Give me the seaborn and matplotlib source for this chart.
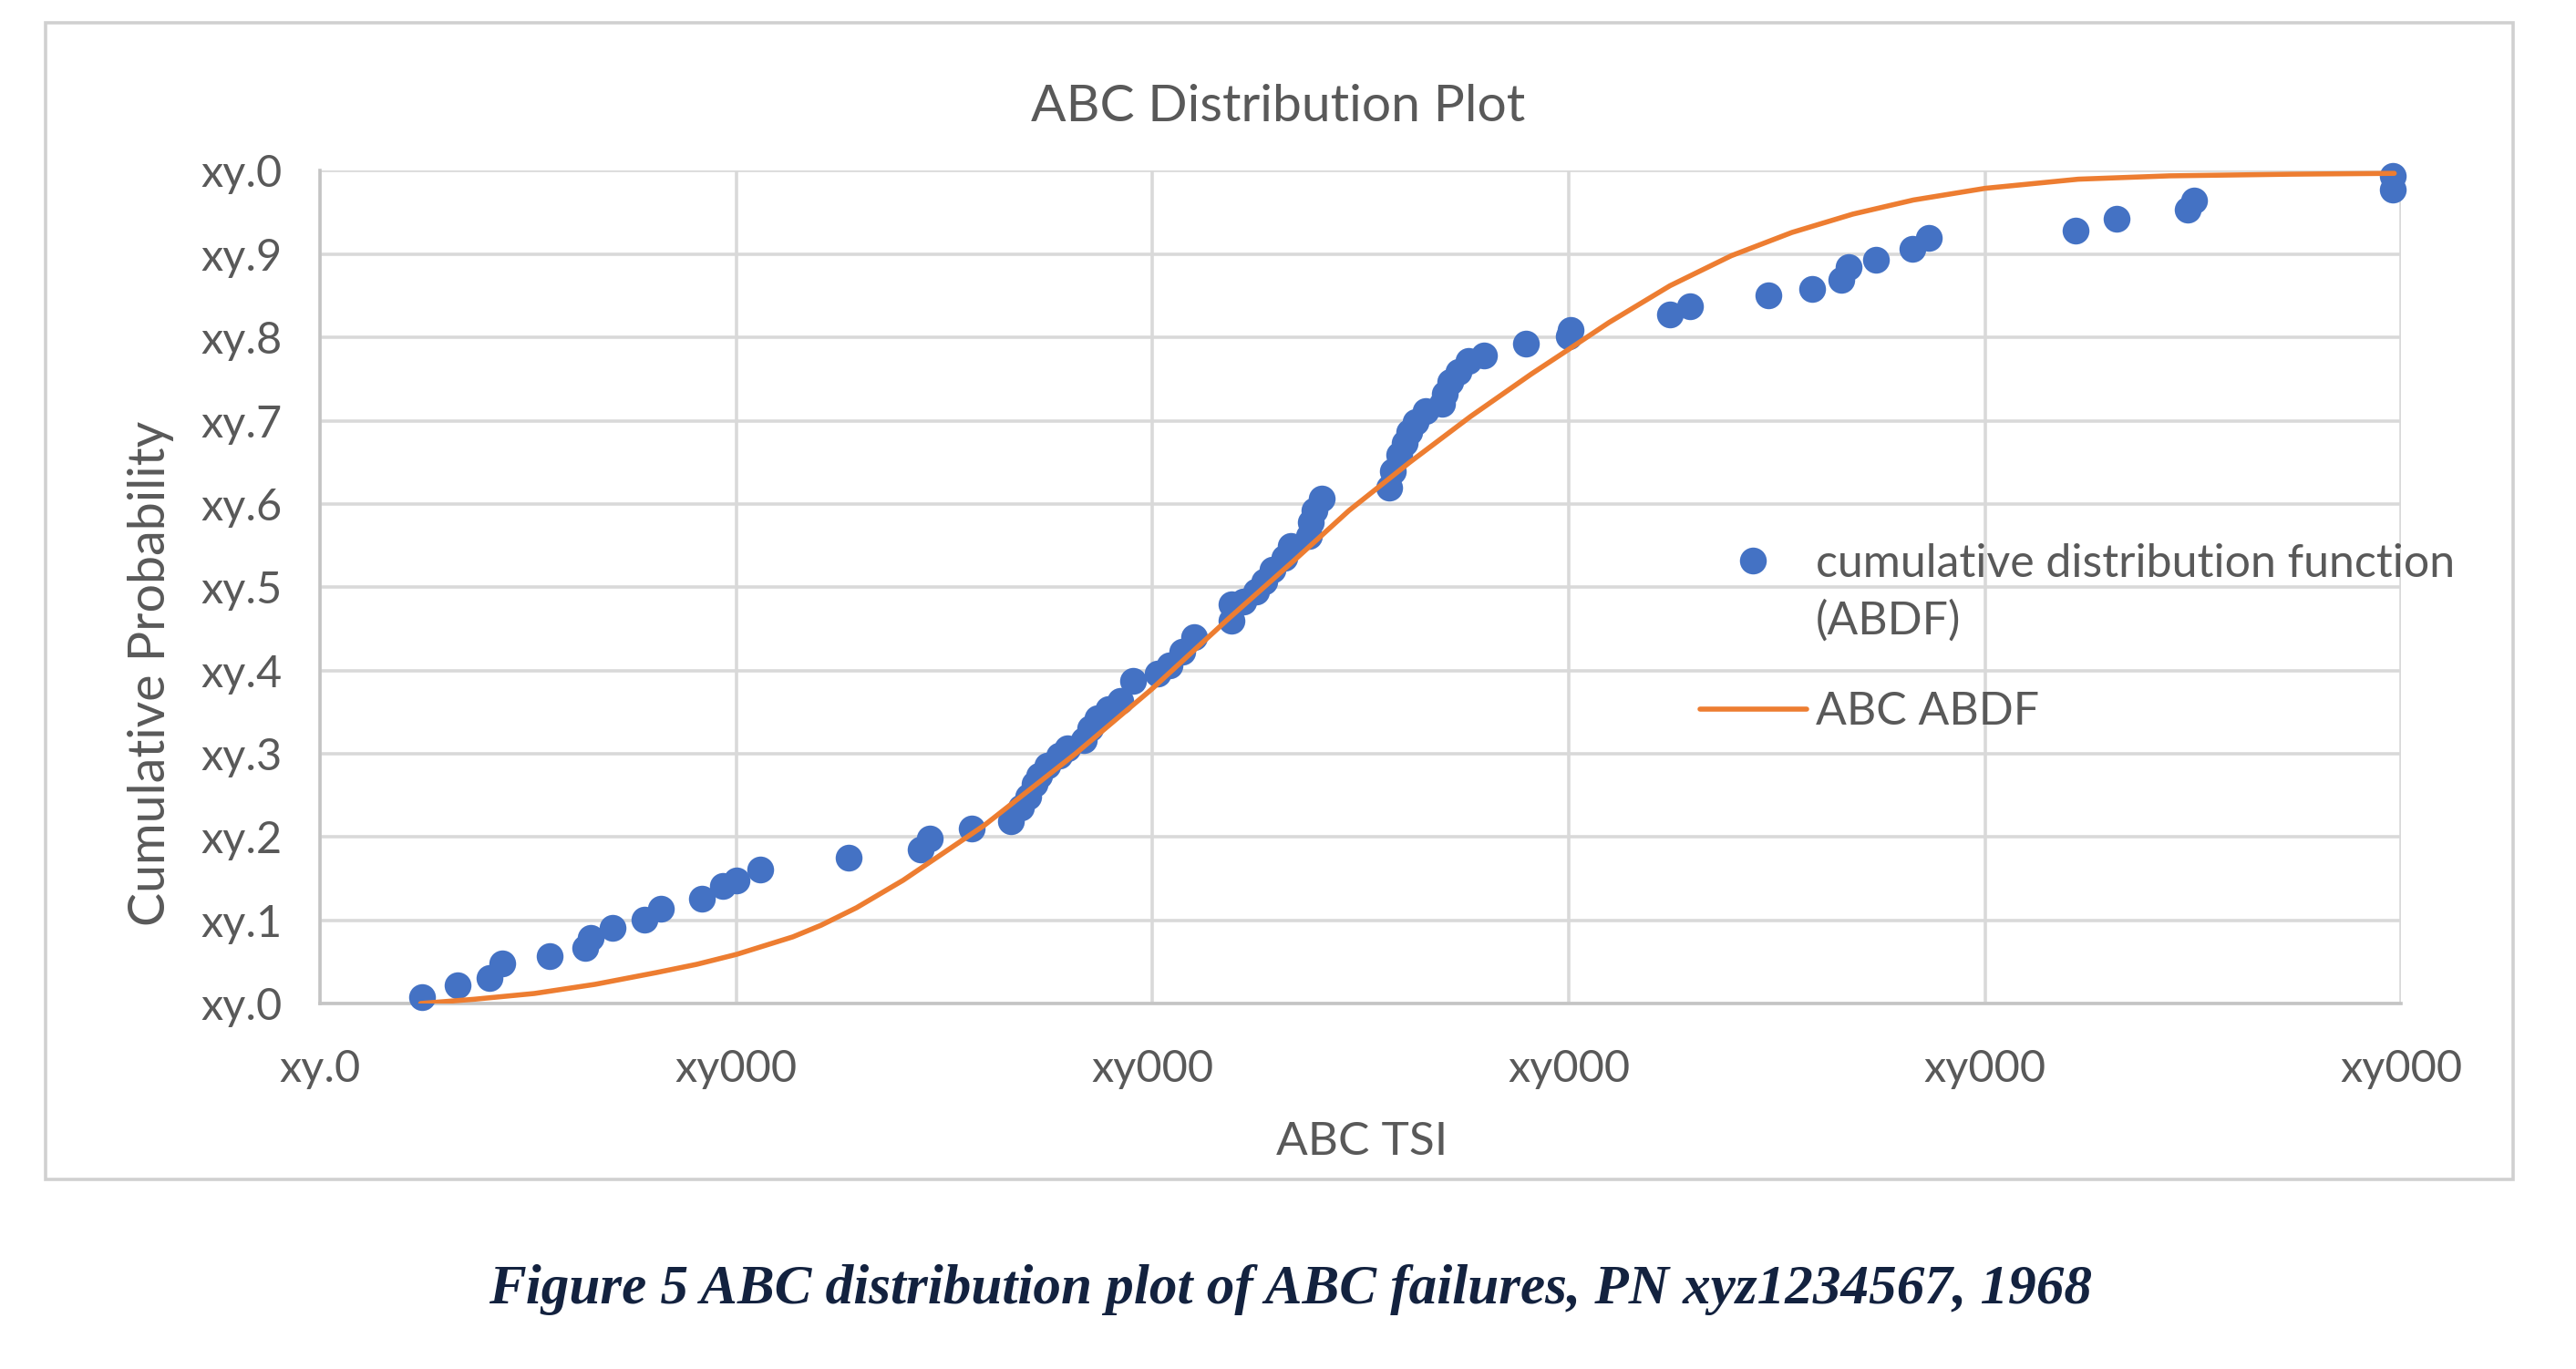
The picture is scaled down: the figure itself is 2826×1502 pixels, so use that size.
import numpy as np
import pandas as pd
import seaborn as sns
from matplotlib import pyplot as plt
from matplotlib.patches import Rectangle

tsi_obs = [0.245, 0.331, 0.408, 0.438, 0.552, 0.638, 0.651, 0.703, 0.780, 0.820,
           0.917, 0.968, 1.001, 1.057, 1.271, 1.443, 1.465, 1.565, 1.659, 1.685,
           1.701, 1.717, 1.728, 1.748, 1.776, 1.796, 1.835, 1.851, 1.867, 1.894,
           1.922, 1.953, 2.013, 2.040, 2.072, 2.099, 2.190, 2.190, 2.218, 2.249,
           2.269, 2.289, 2.316, 2.332, 2.376, 2.380, 2.388, 2.407, 2.569, 2.577,
           2.593, 2.605, 2.617, 2.632, 2.656, 2.695, 2.703, 2.715, 2.735, 2.758,
           2.796, 2.896, 3.000, 3.004, 3.242, 3.291, 3.480, 3.585, 3.654, 3.672,
           3.737, 3.826, 3.864, 4.218, 4.315, 4.487, 4.503, 4.980, 4.980]
prob_obs = [0.008, 0.022, 0.031, 0.048, 0.057, 0.067, 0.079, 0.091, 0.101, 0.114,
            0.126, 0.141, 0.148, 0.161, 0.175, 0.185, 0.198, 0.210, 0.219, 0.235,
            0.249, 0.264, 0.274, 0.286, 0.298, 0.306, 0.316, 0.331, 0.343, 0.353,
            0.363, 0.387, 0.396, 0.406, 0.422, 0.440, 0.460, 0.479, 0.483, 0.495,
            0.507, 0.521, 0.535, 0.550, 0.562, 0.578, 0.592, 0.606, 0.619, 0.639,
            0.659, 0.673, 0.686, 0.698, 0.712, 0.720, 0.732, 0.746, 0.759, 0.772,
            0.778, 0.793, 0.801, 0.809, 0.827, 0.837, 0.851, 0.858, 0.869, 0.884,
            0.893, 0.906, 0.919, 0.928, 0.942, 0.953, 0.964, 0.977, 0.994]

# fitted curve
tsi_fit = [0.242, 0.369, 0.515, 0.661, 0.807, 0.905, 1.001, 1.136, 1.204, 1.289,
           1.401, 1.596, 1.815, 1.997, 2.180, 2.340, 2.472, 2.618, 2.764, 2.910,
           3.001, 3.097, 3.243, 3.390, 3.536, 3.682, 3.828, 4.000, 4.224, 4.443,
           4.735, 4.983]
prob_fit = [0.000, 0.005, 0.012, 0.023, 0.037, 0.047, 0.059, 0.080, 0.094, 0.115,
            0.148, 0.214, 0.300, 0.377, 0.461, 0.532, 0.592, 0.650, 0.705, 0.756,
            0.786, 0.818, 0.862, 0.898, 0.926, 0.948, 0.965, 0.979, 0.990, 0.994,
            0.996, 0.997]

x_ticks = [0, 1, 2, 3, 4, 5]
x_ticklabels = ["xy.0", "xy000", "xy000", "xy000", "xy000", "xy000"]
y_ticks = [0.0, 0.1, 0.2, 0.3, 0.4, 0.5, 0.6, 0.7, 0.8, 0.9, 1.0]
y_ticklabels = ["xy.0", "xy.1", "xy.2", "xy.3", "xy.4", "xy.5", "xy.6", "xy.7", "xy.8", "xy.9", "xy.0"]

#%%
sns.set_style("white")
plt.rcParams["font.family"] = ["Lato", "DejaVu Sans"]
TXT = "#595959"
GRID = "#d9d9d9"

fig = plt.figure(figsize=(28.26, 15.02), dpi=100)
ax = fig.add_axes([0.1242, 0.267, 0.808, 0.6082])

# outer chart frame
fig.patches.append(Rectangle((0.0177, 0.1385), 0.9579, 0.8449, transform=fig.transFigure,
                             fill=False, edgecolor="#d0d0d0", linewidth=2.6))

table_obs = pd.DataFrame({"tsi": tsi_obs, "prob": prob_obs})
table_fit = pd.DataFrame({"tsi": tsi_fit, "prob": prob_fit})

sns.scatterplot(data=table_obs, x="tsi", y="prob", ax=ax, color="#4472C4", s=450,
                linewidth=0, zorder=3, clip_on=False,
                label="cumulative distribution function\n(ABDF)")
sns.lineplot(data=table_fit, x="tsi", y="prob", ax=ax, color="#ED7D31", linewidth=4,
             zorder=4, label="ABC ABDF")

ax.set_xlim(0, 5)
ax.set_ylim(0, 1)
ax.set_xticks(x_ticks)
ax.set_xticklabels(x_ticklabels)
ax.set_yticks(y_ticks)
ax.set_yticklabels(y_ticklabels)
ax.tick_params(length=0, labelsize=35, labelcolor=TXT)
ax.tick_params(axis="x", pad=36)
ax.tick_params(axis="y", pad=30)
ax.grid(True, color=GRID, linewidth=2.6)
ax.set_axisbelow(True)
for side in ["top", "right"]:
    ax.spines[side].set_visible(False)
for side in ["left", "bottom"]:
    ax.spines[side].set_color("#c4c4c4")
    ax.spines[side].set_linewidth(2.6)
ax.set_xlabel("")
ax.set_ylabel("")

fig.text(0.496, 0.922, "ABC Distribution Plot", ha="center", va="center", fontsize=41, color=TXT)
fig.text(0.0587, 0.508, "Cumulative Probability", ha="center", va="center", rotation=90,
         fontsize=40, color=TXT)
fig.text(0.5287, 0.166, "ABC TSI", ha="center", va="center", fontsize=37, color=TXT)

leg = ax.legend(loc="upper left", bbox_to_anchor=(0.663, 0.553), frameon=False, fontsize=36,
                handlelength=2.34, handletextpad=0.2, labelspacing=1.08, labelcolor=TXT,
                borderpad=0, borderaxespad=0, scatteryoffsets=[1.52])
leg.get_texts()[0].set_linespacing(1.42)

fig.text(0.501, 0.058, "Figure 5 ABC distribution plot of ABC failures, PN xyz1234567, 1968",
         ha="center", va="center", fontsize=44, color="#13223f",
         family=["Liberation Serif", "DejaVu Serif"], style="italic", weight="bold")

plt.savefig("out.png", dpi=100)
plt.close()
